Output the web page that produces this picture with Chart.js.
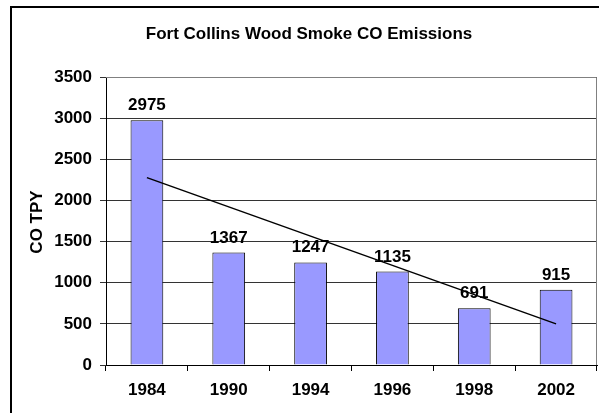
<!DOCTYPE html>
<html>
<head>
<meta charset="utf-8">
<script src="https://cdn.jsdelivr.net/npm/chart.js@4.4.1/dist/chart.umd.min.js"></script>
<style>
  html, body { margin: 0; padding: 0; background: #fff; }
  #wrap { width: 599px; height: 413px; position: relative; }
</style>
</head>
<body>
<div id="wrap"><canvas id="chart" width="599" height="413"></canvas></div>
<script>
// Wood smoke CO emissions by inventory year (tons per year)
const years = ['1984', '1990', '1994', '1996', '1998', '2002'];
const coTpy = [2975, 1367, 1247, 1135, 691, 915];
// Linear trend endpoints (first and last year)
const trend = [2277, null, null, null, null, 500];
const yTicks = [0, 500, 1000, 1500, 2000, 2500, 3000, 3500];

const chartTitle = 'Fort Collins Wood Smoke CO Emissions';
const yTitle = 'CO TPY';
const FONT = '"Liberation Sans", Arial, sans-serif';
const FSIZE = 17;

// Frame, plot border, title, axis title and value labels
const decorations = {
  id: 'decorations',
  beforeDraw(chart) {
    const ctx = chart.ctx;
    ctx.save();
    ctx.fillStyle = '#fff';
    ctx.fillRect(0, 0, chart.width, chart.height);
    ctx.restore();
  },
  afterDraw(chart) {
    const ctx = chart.ctx;
    const a = chart.chartArea;
    ctx.save();
    // outer frame
    ctx.strokeStyle = '#000';
    ctx.lineWidth = 2;
    ctx.beginPath();
    ctx.moveTo(11, chart.height + 5);
    ctx.lineTo(11, 7);
    ctx.lineTo(chart.width + 5, 7);
    ctx.stroke();
    // plot area border (top and right)
    ctx.strokeStyle = '#808080';
    ctx.lineWidth = 1;
    ctx.beginPath();
    ctx.moveTo(a.left, a.top + 0.5);
    ctx.lineTo(a.right - 0.5, a.top + 0.5);
    ctx.lineTo(a.right - 0.5, a.bottom);
    ctx.stroke();
    // title
    ctx.fillStyle = '#000';
    ctx.font = 'bold ' + FSIZE + 'px ' + FONT;
    ctx.textAlign = 'center';
    ctx.textBaseline = 'alphabetic';
    ctx.fillText(chartTitle, 309, 39);
    // y axis title
    ctx.save();
    ctx.translate(42, 222);
    ctx.rotate(-Math.PI / 2);
    ctx.fillText(yTitle, 0, 0);
    ctx.restore();
    // value labels above bars
    const meta = chart.getDatasetMeta(0);
    meta.data.forEach((bar, i) => {
      ctx.fillText(String(coTpy[i]), bar.x, bar.y - 10);
    });
    ctx.restore();
  }
};

new Chart(document.getElementById('chart'), {
  data: {
    labels: years,
    datasets: [
      {
        type: 'bar',
        data: coTpy,
        backgroundColor: '#9999ff',
        borderColor: '#000',
        borderWidth: 1,
        barPercentage: 0.4,
        categoryPercentage: 1.0,
        order: 2
      },
      {
        type: 'line',
        data: trend,
        spanGaps: true,
        borderColor: '#000',
        borderWidth: 1.5,
        pointRadius: 0,
        fill: false,
        order: 1
      }
    ]
  },
  options: {
    responsive: false,
    animation: false,
    events: [],
    layout: { padding: { top: 77, right: 2, left: 0, bottom: 0 } },
    plugins: {
      legend: { display: false },
      tooltip: { enabled: false },
      title: { display: false }
    },
    scales: {
      x: {
        offset: true,
        grid: {
          offset: true,
          drawOnChartArea: false,
          drawTicks: true,
          tickLength: 6,
          color: '#000'
        },
        border: { color: '#000', width: 1 },
        ticks: {
          color: '#000',
          padding: 9,
          font: { family: FONT, size: FSIZE, weight: 'bold' }
        },
        afterFit(s) { s.height = 48; }
      },
      y: {
        min: 0,
        max: 3500,
        afterBuildTicks(s) { s.ticks = yTicks.map(v => ({ value: v })); },
        grid: {
          color: '#333',
          drawTicks: true,
          tickLength: 6,
          lineWidth: 1
        },
        border: { color: '#000', width: 1 },
        ticks: {
          color: '#000',
          padding: 8,
          callback: v => String(v),
          font: { family: FONT, size: FSIZE, weight: 'bold' }
        },
        afterFit(s) { s.width = 106; }
      }
    }
  },
  plugins: [decorations]
});
</script>
</body>
</html>
